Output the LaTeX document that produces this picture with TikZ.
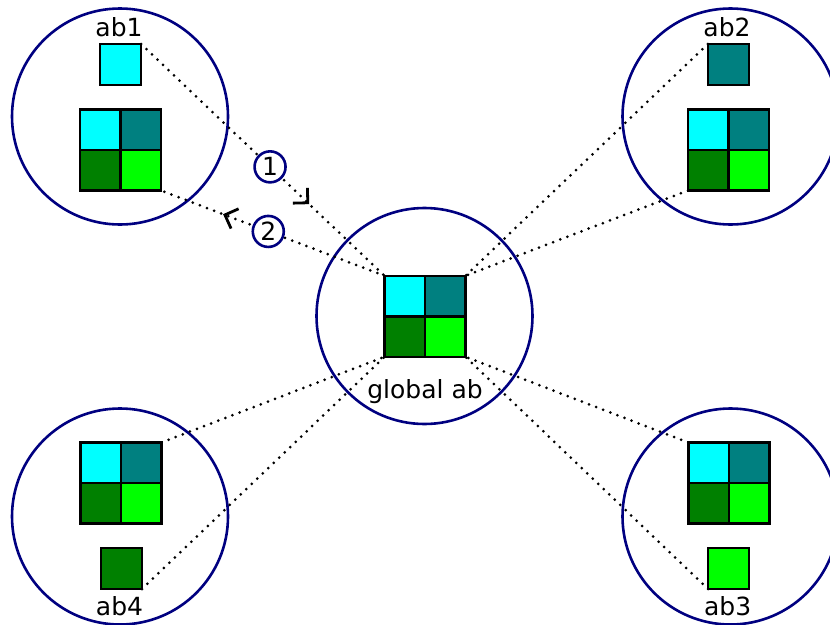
\documentclass[tikz,border=0pt]{standalone}
\usepackage{fontspec}
\setmainfont{DejaVu Sans}
\usetikzlibrary{decorations.markings}
\definecolor{navyc}{RGB}{0,0,128}
\definecolor{cyanc}{RGB}{0,255,255}
\definecolor{tealc}{RGB}{0,128,128}
\definecolor{greenc}{RGB}{0,128,0}
\definecolor{limec}{RGB}{0,255,0}
\pgfdeclarelayer{bg}
\pgfsetlayers{bg,main}
\newcommand{\quadgrid}[3]{%
  \node[frame] (#1) at (#2,#3) {};
  \node[cell,fill=cyanc,anchor=north west] (#1a) at (#1.north west) {};
  \node[cell,fill=tealc,anchor=north east] (#1b) at (#1.north east) {};
  \node[cell,fill=greenc,anchor=south west] (#1c) at (#1.south west) {};
  \node[cell,fill=limec,anchor=south east] (#1d) at (#1.south east) {};
}
\tikzset{
  ring/.style={circle,draw=navyc,line width=2.6pt,minimum size=216pt,inner sep=0pt},
  cell/.style={draw=black,line width=2.6pt,minimum size=40.5pt,inner sep=0pt,outer sep=0pt},
  frame/.style={minimum size=81pt,inner sep=0pt,outer sep=0pt},
  dotline/.style={line width=3pt,line cap=round,dash pattern=on 0pt off 7.6pt},
  lbl/.style={font=\fontsize{25}{30}\selectfont,anchor=base,inner sep=0pt},
  num/.style={circle,solid,line cap=butt,draw=navyc,fill=white,line width=2.6pt,minimum size=31pt,inner sep=0pt,font=\fontsize{25}{30}\selectfont},
  barb/.style={postaction={decorate,decoration={markings,mark=at position #1 with {\draw[solid,line width=2.8pt,line cap=butt,line join=miter] (-10.6pt,10.6pt) -- (0pt,0pt) -- (-10.6pt,-10.6pt);}}}}
}
\begin{document}
\begin{tikzpicture}[x=1pt,y=-1pt]
\useasboundingbox (0,0) rectangle (830,624);
% grids and squares
\quadgrid{G}{425}{316.3}
\quadgrid{g1}{120.5}{150}
\quadgrid{g2}{728.5}{150}
\quadgrid{g4}{121}{483}
\quadgrid{g3}{728.8}{483}
\node[cell,minimum size=41pt,fill=cyanc] (s1) at (120.5,64.5) {};
\node[cell,minimum size=41pt,fill=tealc] (s2) at (728.3,64.5) {};
\node[cell,minimum size=41pt,fill=greenc] (s4) at (121.5,568.5) {};
\node[cell,minimum size=41pt,fill=limec] (s3) at (728.5,568.5) {};
% labels
\node[lbl] (t1) at (119,36) {ab1};
\node[lbl] (t2) at (727,36) {ab2};
\node[lbl] (tg) at (425,398) {global ab};
\node[lbl] (t4) at (119.5,615) {ab4};
\node[lbl] (t3) at (727.7,615) {ab3};
\begin{pgfonlayer}{bg}
% rings
\node[ring] (c1) at (120,116.5) {};
\node[ring] (c2) at (730.5,116.5) {};
\node[ring] (cg) at (424.5,316) {};
\node[ring] (c4) at (120,516.5) {};
\node[ring] (c3) at (730.5,516.5) {};
% connectors
\draw[dotline,barb=0.685] (s1.north east) -- node[num,pos=0.53]{1} (G.north west);
\draw[dotline,barb=0.714] (G.north west) -- node[num,pos=0.52]{2} (g1.south east);
\draw[dotline] (s2.north west) -- (G.north east);
\draw[dotline] (g2.south west) -- (G.north east);
\draw[dotline] (g4.north east) -- (G.south west);
\draw[dotline] (s4.south east) -- (G.south west);
\draw[dotline] (g3.north west) -- (G.south east);
\draw[dotline] (s3.south west) -- (G.south east);
\end{pgfonlayer}
\end{tikzpicture}
\end{document}
